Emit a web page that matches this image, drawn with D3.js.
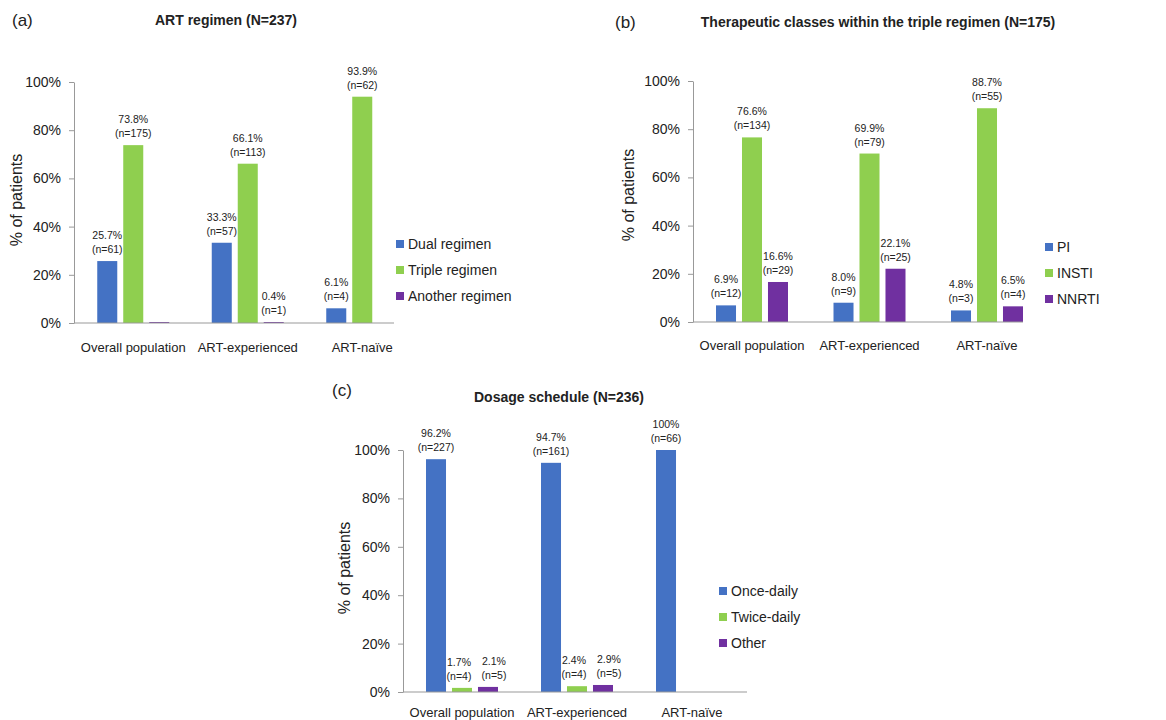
<!DOCTYPE html>
<html>
<head>
<meta charset="utf-8">
<script src="https://cdn.jsdelivr.net/npm/d3@7"></script>
<style>
  body { margin: 0; background: white; }
  text { font-family: Arial, "Liberation Sans", sans-serif; fill: #222; }
</style>
</head>
<body>
<svg id="chart" width="1166" height="720"></svg>
<script>
const categories = ["Overall population", "ART-experienced", "ART-naïve"];
const colors = ["#4472C4", "#8FCF4F", "#7030A0"];
const yTicks = [0, 20, 40, 60, 80, 100];

// (a) ART regimen
const aSeries = ["Dual regimen", "Triple regimen", "Another regimen"];
const aValues = [[25.7, 33.3, 6.1], [73.8, 66.1, 93.9], [0.4, 0.4, 0]];
const aCounts = [[61, 57, 4], [175, 113, 62], [null, 1, null]];

// (b) therapeutic classes
const bSeries = ["PI", "INSTI", "NNRTI"];
const bValues = [[6.9, 8.0, 4.8], [76.6, 69.9, 88.7], [16.6, 22.1, 6.5]];
const bCounts = [[12, 9, 3], [134, 79, 55], [29, 25, 4]];

// (c) dosage schedule
const cSeries = ["Once-daily", "Twice-daily", "Other"];
const cValues = [[96.2, 94.7, 100], [1.7, 2.4, 0], [2.1, 2.9, 0]];
const cCounts = [[227, 161, 66], [4, 4, null], [5, 5, null]];

const svg = d3.select("#chart");
const fmtPct = (v) => (v === 100 ? "100%" : v.toFixed(1) + "%");

function drawPanel(p) {
  const g = svg.append("g");

  const x = d3.scaleBand(categories, p.xRange);
  const inner = d3.scaleBand(p.series, [-36, 36]).paddingInner(0.23);
  const y = d3.scaleLinear([0, 100], p.yRange);

  // panel letter + title
  g.append("text").attr("x", p.letter[0]).attr("y", p.letter[1])
    .attr("dy", "0.35em").attr("font-size", 17).text(p.letterText);
  g.append("text").attr("x", p.title[0]).attr("y", p.title[1])
    .attr("dy", "0.35em").attr("text-anchor", "middle")
    .attr("font-size", 14).attr("font-weight", "bold").text(p.titleText);

  // y axis
  const yAxis = g.append("g")
    .attr("transform", `translate(${p.axisX},0)`)
    .call(d3.axisLeft(y).tickValues(yTicks).tickFormat((d) => d + "%")
      .tickSize(5).tickPadding(8).tickSizeOuter(0));
  yAxis.select(".domain").attr("stroke", "#999");
  yAxis.selectAll(".tick line").attr("stroke", "#999");
  yAxis.selectAll(".tick text").attr("font-size", 14).attr("fill", "#222")
    .attr("font-family", "Arial, 'Liberation Sans', sans-serif");

  g.append("text")
    .attr("transform", `translate(${p.yLabel[0]},${p.yLabel[1]}) rotate(-90)`)
    .attr("dy", "0.35em").attr("text-anchor", "middle")
    .attr("font-size", 16).text("% of patients");

  // bars
  const rows = [];
  p.series.forEach((s, si) => {
    categories.forEach((c, ci) => {
      rows.push({ s, si, c, v: p.values[si][ci], n: p.counts[si][ci] });
    });
  });
  const cx = (d) => x(d.c) + x.bandwidth() / 2 + inner(d.s);

  g.append("g").selectAll("rect")
    .data(rows.filter((d) => d.v > 0))
    .join("rect")
    .attr("x", cx)
    .attr("y", (d) => y(d.v))
    .attr("width", inner.bandwidth())
    .attr("height", (d) => y(0) - y(d.v))
    .attr("fill", (d) => colors[d.si]);

  // baseline
  g.append("line")
    .attr("x1", p.axisX).attr("x2", p.axisEnd)
    .attr("y1", y(0)).attr("y2", y(0))
    .attr("stroke", "#999");

  // value labels (small nudges keep neighbours apart, as in the original)
  const shift = p.labelShift || [0, 0, 0];
  const lab = g.append("g").selectAll("g")
    .data(rows.filter((d) => d.n !== null))
    .join("g")
    .attr("transform", (d) =>
      `translate(${cx(d) + inner.bandwidth() / 2 + shift[d.si]},${y(d.v)})`)
    .attr("font-size", 10.5).attr("text-anchor", "middle");
  lab.append("text").attr("y", -22).text((d) => fmtPct(d.v));
  lab.append("text").attr("y", -8).text((d) => `(n=${d.n})`);

  // category labels
  g.append("g").selectAll("text")
    .data(categories)
    .join("text")
    .attr("x", (d) => x(d) + x.bandwidth() / 2)
    .attr("y", y(0) + p.catDy)
    .attr("text-anchor", "middle")
    .attr("font-size", 13)
    .text((d) => d);

  // legend
  const leg = g.append("g").selectAll("g")
    .data(p.series)
    .join("g")
    .attr("transform", (d, i) => `translate(${p.legend[0]},${p.legend[1] + i * 26})`);
  leg.append("rect").attr("x", 0).attr("y", -4).attr("width", 8).attr("height", 8)
    .attr("fill", (d, i) => colors[i]);
  leg.append("text").attr("x", 12).attr("dy", "0.35em")
    .attr("font-size", 14).text((d) => d);
}

drawPanel({
  letterText: "(a)", letter: [12, 20],
  titleText: "ART regimen (N=237)", title: [226, 20],
  series: aSeries, values: aValues, counts: aCounts,
  xRange: [76, 419.5], yRange: [323, 82],
  axisX: 74, axisEnd: 394, yLabel: [16, 200],
  catDy: 29, legend: [396, 244]
});

drawPanel({
  letterText: "(b)", letter: [615, 22],
  titleText: "Therapeutic classes within the triple regimen (N=175)", title: [878, 22],
  series: bSeries, values: bValues, counts: bCounts,
  xRange: [693.25, 1045.75], yRange: [322, 81],
  axisX: 693, axisEnd: 1023, yLabel: [628, 195],
  catDy: 28, legend: [1045, 247]
});

drawPanel({
  letterText: "(c)", letter: [332, 390],
  titleText: "Dosage schedule (N=236)", title: [559, 397],
  series: cSeries, values: cValues, counts: cCounts,
  xRange: [404.5, 749.5], yRange: [692, 450],
  axisX: 403, axisEnd: 747, yLabel: [344, 568],
  catDy: 25, legend: [719, 591], labelShift: [0, -3, 6]
});
</script>
</body>
</html>
